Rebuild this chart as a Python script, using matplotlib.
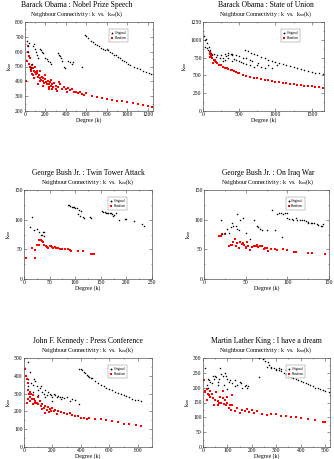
import numpy as np
import matplotlib
matplotlib.use("Agg")
import matplotlib.pyplot as plt
from matplotlib.ticker import MultipleLocator, AutoMinorLocator

plt.rcParams['font.family'] = ['Liberation Serif', 'DejaVu Serif']
plt.rcParams['mathtext.fontset'] = 'stix'

# ---- data ----
# Barack Obama : Nobel Prize Speech
obama_nobel_orig_k = [20, 25, 30, 40, 50, 60, 70, 80, 90, 100, 110, 120, 130, 150, 160, 170, 180, 200, 210, 220, 240, 250,
                      320, 330, 340, 350, 360, 380, 390, 420, 440, 460, 470, 560,
                      590, 600, 620, 640, 660, 680, 700, 720, 740, 760, 780, 800, 810, 830, 850, 870, 890, 910, 930, 950,
                      970, 990, 1010, 1030, 1060, 1090, 1120, 1150, 1180, 1210, 1235]
obama_nobel_orig_knn = [670, 640, 600, 660, 480, 500, 520, 640, 650, 620, 600, 580, 560, 620, 610, 600, 590, 560, 550, 540, 530, 520,
                        590, 580, 570, 560, 540, 500, 490, 540, 530, 520, 530, 500,
                        710, 705, 690, 675, 665, 655, 645, 635, 625, 615, 610, 620, 610, 600, 590, 580, 575, 565, 555, 545,
                        540, 530, 520, 510, 500, 490, 480, 472, 465, 458, 452]
obama_nobel_rand_k = [5, 15, 25, 30, 35, 40, 45, 50, 55, 60, 70, 80, 90, 100, 110, 120, 130, 140, 150, 160, 170, 180, 190, 200,
                      210, 220, 230, 240, 250, 260, 270, 280, 300, 320, 340, 360, 380, 400, 420, 440, 460, 480, 500, 520,
                      540, 560, 580, 600, 650, 700, 750, 800, 850, 900, 950, 1000, 1050, 1100, 1150, 1200, 1240,
                      100, 150, 200, 250, 300, 330, 130, 180, 230, 90, 65, 75, 115, 145, 175, 205, 235, 265, 310, 410]
obama_nobel_rand_knn = [400, 540, 640, 600, 570, 520, 500, 560, 480, 470, 510, 490, 470, 460, 450, 470, 430, 440, 420, 410, 430, 400, 390, 415,
                        385, 400, 380, 395, 370, 380, 360, 390, 370, 365, 380, 350, 360, 345, 355, 340, 345, 330, 330, 320,
                        325, 315, 310, 320, 300, 295, 290, 282, 276, 270, 265, 260, 255, 248, 242, 235, 228,
                        500, 470, 440, 410, 345, 395, 380, 370, 345, 420, 450, 440, 455, 400, 420, 395, 360, 350, 335, 330]

# Barack Obama : State of Union
obama_sou_orig_k = [20, 30, 40, 60, 50, 80, 100, 110, 150, 200, 250, 300, 320, 350, 380, 400, 300, 350, 400, 450, 500, 550,
                    600, 650, 700, 750, 800, 850, 900, 350, 400, 450, 500, 550, 600, 650,
                    580, 620, 660, 700, 750, 800, 850, 900, 950, 1000, 1050, 1100, 1150, 1200, 1250, 1300, 1350, 1400,
                    1450, 1500, 1550, 1600, 1660, 30, 70, 130, 180, 230, 270, 280, 430, 520, 680, 760, 950, 1020]
obama_sou_orig_knn = [1050, 1000, 1010, 950, 880, 900, 860, 820, 800, 790, 780, 800, 770, 790, 800, 780, 720, 740, 700, 720, 700, 680,
                      660, 640, 620, 650, 620, 600, 640, 820, 800, 790, 770, 750, 740, 720,
                      860, 840, 820, 800, 780, 760, 740, 720, 705, 690, 675, 660, 645, 630, 615, 600, 585, 570,
                      560, 550, 540, 530, 518, 900, 850, 780, 760, 740, 750, 700, 730, 690, 700, 680, 610, 650]
obama_sou_rand_k = [90, 100, 110, 120, 150, 160, 200, 250, 300, 350, 400, 450, 500, 550, 600, 650, 700, 750, 800, 850, 900, 950,
                    1000, 1050, 1100, 1150, 1200, 1250, 1300, 1350, 1400, 1450, 1500, 1550, 1600, 1660,
                    100, 130, 140, 180, 220, 170, 280, 330, 380, 430, 480]
obama_sou_rand_knn = [830, 800, 770, 740, 720, 700, 670, 640, 610, 590, 570, 550, 530, 510, 495, 480, 470, 460, 450, 440, 430, 420,
                      412, 405, 398, 390, 382, 375, 368, 362, 355, 350, 345, 340, 335, 328,
                      760, 780, 680, 690, 650, 720, 620, 600, 580, 555, 540]

# George Bush Jr. : Twin Tower Attack
bush_wtc_orig_k = [12, 15, 20, 25, 30, 33, 36, 38, 40, 40, 85, 88, 90, 93, 95, 97, 100, 103, 105, 108, 110, 112, 115, 118,
                   128, 130, 152, 155, 158, 160, 162, 165, 168, 170, 172, 174, 176, 180, 185, 197, 200, 215, 230, 235]
bush_wtc_orig_knn = [87, 104, 83, 84, 80, 75, 74, 80, 79, 73, 125, 124, 123, 122, 121, 121, 120, 119, 110, 116, 107, 114, 105, 103,
                     105, 103, 114, 113, 113, 112, 112, 112, 111, 111, 110, 106, 108, 111, 100, 101, 101, 97, 92, 90]
bush_wtc_rand_k = [0, 3, 15, 22, 22, 25, 30, 30, 33, 35, 37, 40, 42, 45, 47, 50, 52, 55, 57, 60, 62, 67, 70, 72, 75, 80,
                   85, 90, 92, 105, 115, 130, 133, 137]
bush_wtc_rand_knn = [0, 36, 52, 35, 49, 57, 57, 65, 66, 64, 62, 58, 55, 54, 52, 56, 55, 54, 53, 54, 52, 53, 51, 50, 51, 51,
                     50, 49, 48, 47, 47, 42, 42, 42]

# George Bush Jr. : On Iraq War
bush_iraq_orig_k = [20, 22, 25, 28, 30, 32, 33, 35, 38, 40, 40, 42, 43, 47, 50, 55, 60, 63, 65, 67, 70, 75, 82, 85, 87, 90,
                    92, 93, 95, 97, 100, 100, 102, 105, 107, 110, 112, 115, 117, 120, 122, 125, 125, 128, 130, 132, 135,
                    137, 140, 142, 143]
bush_iraq_orig_knn = [100, 76, 77, 85, 77, 87, 94, 90, 90, 109, 85, 83, 100, 102, 77, 68, 99, 90, 88, 85, 83, 83, 117, 83, 110, 112,
                      111, 71, 110, 112, 111, 103, 101, 101, 100, 102, 99, 100, 100, 100, 97, 96, 94, 95, 94, 95, 92,
                      91, 90, 89, 92]
bush_iraq_rand_k = [0, 18, 20, 22, 25, 30, 32, 33, 35, 37, 38, 40, 42, 43, 45, 47, 48, 50, 50, 52, 53, 55, 58, 60, 62, 63,
                    65, 67, 70, 72, 73, 75, 77, 80, 85, 88, 95, 100, 108, 110, 125, 130, 145]
bush_iraq_rand_knn = [0, 73, 72, 76, 76, 56, 58, 57, 63, 68, 56, 61, 52, 62, 59, 60, 57, 54, 52, 62, 55, 49, 54, 56, 55, 57,
                      54, 56, 55, 50, 52, 52, 48, 50, 50, 49, 51, 49, 46, 45, 44, 43, 42]

# John F. Kennedy : Press Conference
jfk_orig_k = [25, 40, 30, 50, 60, 70, 80, 90, 100, 110, 120, 130, 140, 150, 160, 170, 180, 190, 200, 210, 220, 230, 240, 250,
              260, 270, 280, 300, 320, 340, 360, 390, 30, 60, 100, 150, 200,
              390, 400, 410, 420, 430, 440, 450, 460, 470, 480, 500, 520, 540, 560, 580, 600, 620, 640, 660, 680, 700,
              720, 740, 760, 780, 800, 820]
jfk_orig_knn = [475, 420, 380, 360, 350, 380, 370, 340, 320, 330, 340, 310, 300, 320, 290, 310, 300, 290, 280, 300, 290, 280, 285, 280,
                270, 280, 275, 280, 260, 270, 265, 240, 340, 310, 290, 280, 260,
                440, 440, 430, 420, 415, 405, 400, 395, 390, 385, 370, 360, 350, 342, 332, 325, 318, 310, 305, 298, 292,
                285, 280, 272, 266, 262, 258]
jfk_rand_k = [0, 10, 15, 20, 25, 30, 35, 40, 45, 50, 55, 60, 70, 80, 90, 100, 110, 120, 130, 140, 150, 160, 170, 180, 190, 200,
              210, 220, 240, 260, 280, 300, 320, 340, 360, 380, 400, 420, 440, 460, 500, 540, 580, 620, 660, 700, 740,
              790, 820, 20, 40, 60, 100, 150, 30, 75, 125, 175, 230]
jfk_rand_knn = [0, 440, 400, 380, 360, 320, 300, 310, 280, 300, 270, 290, 270, 260, 250, 240, 260, 230, 240, 220, 230, 210, 225, 215, 205, 220,
                200, 210, 200, 195, 190, 185, 190, 180, 175, 175, 165, 165, 160, 165, 160, 155, 150, 145, 140, 132, 130,
                125, 120, 250, 260, 240, 280, 190, 270, 250, 215, 195, 185]

# Martin Luther King : I have a dream
mlk_orig_k = [10, 15, 20, 25, 30, 35, 40, 45, 50, 55, 60, 65, 70, 75, 80, 85, 90, 95, 100, 105, 110, 120, 130, 140, 150, 155,
              160, 170, 175, 180, 185, 230, 20, 60, 100, 130,
              230, 245, 255, 265, 270, 280, 290, 300, 310, 320, 330, 340, 350, 360, 370, 380, 390, 400, 410, 420, 430,
              440, 450, 460, 470, 480, 490, 500, 515, 260, 280, 300, 310, 320, 340]
mlk_orig_knn = [265, 210, 230, 225, 220, 215, 240, 230, 240, 235, 220, 230, 265, 245, 240, 210, 250, 240, 230, 220, 225, 215, 205, 210, 220, 215,
                200, 205, 210, 200, 205, 235, 200, 210, 195, 225,
                300, 295, 290, 285, 275, 270, 265, 262, 258, 255, 250, 245, 240, 235, 232, 228, 225, 222, 218, 215, 212,
                208, 205, 200, 198, 195, 192, 190, 185, 270, 265, 260, 265, 262, 260]
mlk_rand_k = [0, 5, 8, 10, 15, 18, 20, 25, 30, 35, 40, 45, 50, 55, 60, 65, 70, 75, 80, 85, 90, 95, 100, 105, 110, 115, 120,
              130, 140, 150, 160, 170, 180, 190, 200, 210, 220, 240, 260, 280, 300, 320, 340, 360, 380, 400, 430, 460,
              490, 500, 30, 60, 80, 100, 120]
mlk_rand_knn = [0, 225, 190, 185, 195, 160, 180, 175, 170, 180, 165, 140, 160, 185, 155, 150, 170, 150, 165, 145, 160, 140, 150, 130, 140, 125, 140,
                120, 130, 115, 125, 120, 128, 118, 125, 115, 120, 112, 108, 110, 112, 103, 105, 100, 100, 98, 95, 90,
                85, 84, 190, 140, 190, 170, 175]

panels = [
    ("Barack Obama : Nobel Prize Speech", obama_nobel_orig_k, obama_nobel_orig_knn, obama_nobel_rand_k, obama_nobel_rand_knn,
     (0, 1250), 200, (200, 800), 100, [25, 111, 153], 77),
    ("Barack Obama : State of Union", obama_sou_orig_k, obama_sou_orig_knn, obama_sou_rand_k, obama_sou_rand_knn,
     (0, 1670), 500, (0, 1250), 250, [203, 111, 324], 266),
    ("George Bush Jr. : Twin Tower Attack", bush_wtc_orig_k, bush_wtc_orig_knn, bush_wtc_rand_k, bush_wtc_rand_knn,
     (0, 250), 50, (0, 150), 50, [24, 279, 152], 88),
    ("George Bush Jr. : On Iraq War", bush_iraq_orig_k, bush_iraq_orig_knn, bush_iraq_rand_k, bush_iraq_rand_knn,
     (0, 150), 50, (0, 150), 50, [204, 279, 329], 268),
    ("John F. Kennedy : Press Conference", jfk_orig_k, jfk_orig_knn, jfk_rand_k, jfk_rand_knn,
     (0, 900), 200, (0, 500), 100, [24, 447, 152], 88),
    ("Martin Lather King : I have a dream", mlk_orig_k, mlk_orig_knn, mlk_rand_k, mlk_rand_knn,
     (0, 520), 100, (0, 300), 50, [203, 447, 330], 266),
]

W, H = 334, 459
fig = plt.figure(figsize=(W / 100, H / 100), dpi=100)

for title, ok, oknn, rk, rknn, xlim, xstep, ylim, ystep, box, tx in panels:
    left, bottom, right = box
    ax = fig.add_axes([left / W, 1 - bottom / H, (right - left) / W, 89 / H])
    ax.scatter(ok, oknn, s=1.2, c='black', marker='o', linewidths=0, label='Original', zorder=3)
    ax.scatter(rk, rknn, s=2.0, c='red', marker='s', linewidths=0, label='Random', zorder=2)
    ax.set_xlim(*xlim)
    ax.set_ylim(*ylim)
    ax.xaxis.set_major_locator(MultipleLocator(xstep))
    ax.yaxis.set_major_locator(MultipleLocator(ystep))
    ax.xaxis.set_minor_locator(AutoMinorLocator(2))
    ax.yaxis.set_minor_locator(AutoMinorLocator(2))
    ax.tick_params(which='both', direction='in', top=True, right=True, labelsize=4, pad=1, width=0.4, color='#444444')
    ax.tick_params(which='major', length=2)
    ax.tick_params(which='minor', length=1)
    for sp in ax.spines.values():
        sp.set_linewidth(0.5)
        sp.set_color('#555555')
    ax.set_xlabel("Degree (k)", fontsize=4.2, labelpad=0)
    ax.set_ylabel(r"k$_{nn}$", fontsize=4.5, labelpad=1)
    leg = ax.legend(loc='upper right', bbox_to_anchor=(0.82, 0.94), fontsize=2.5, markerscale=1.2,
                    frameon=True, fancybox=False, handletextpad=0.3, borderpad=0.5, labelspacing=0.4,
                    handlelength=0.8)
    leg.get_frame().set_linewidth(0.3)
    leg.get_frame().set_edgecolor('#555555')
    ty = 1 - (bottom - 89) / H
    fig.text(tx / W, ty + 13 / H, title, ha='center', va='bottom', fontsize=5.5)
    fig.text(tx / W, ty + 3 / H, r"Neighbour Connectivity : k  vs.  k$_{nn}$(k)", ha='center', va='bottom', fontsize=4.2)

fig.savefig("out.png", dpi=100)
